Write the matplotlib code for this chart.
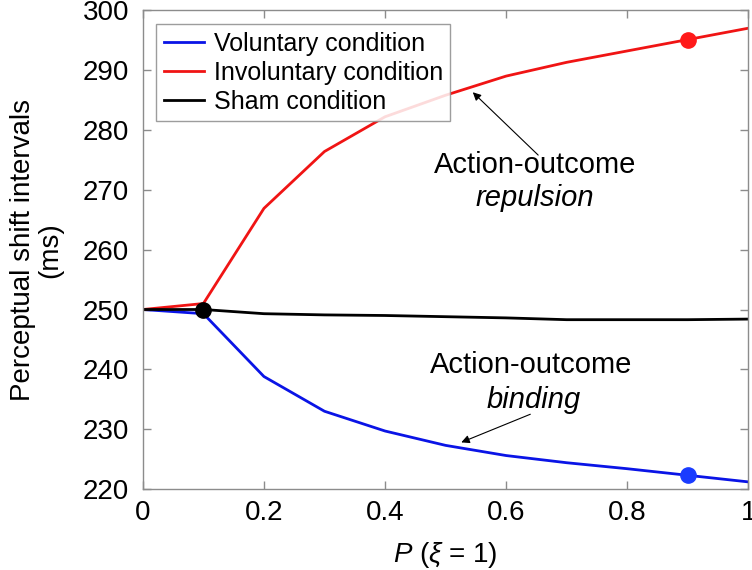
import numpy as np
import matplotlib
matplotlib.use("Agg")
import matplotlib.pyplot as plt

plt.rcParams['font.family'] = ['Liberation Sans', 'DejaVu Sans']
plt.rcParams['mathtext.fontset'] = 'custom'
plt.rcParams['mathtext.rm'] = 'Liberation Sans'
plt.rcParams['mathtext.it'] = 'Liberation Sans:italic'

# data
p = [0, 0.1, 0.2, 0.3, 0.4, 0.5, 0.6, 0.7, 0.8, 0.9, 1.0]
voluntary = [250, 249.3, 238.8, 233.0, 229.7, 227.3, 225.6, 224.4, 223.4, 222.3, 221.2]
involuntary = [250, 251.0, 266.9, 276.4, 282.2, 285.8, 289.0, 291.3, 293.2, 295.1, 297.0]
sham = [250, 250.0, 249.3, 249.1, 249.0, 248.8, 248.6, 248.3, 248.3, 248.3, 248.4]

# highlighted points
mark_x = [0.1, 0.9, 0.9]
mark_y = [250.0, 295.1, 222.3]
mark_c = ['black', '#ff1a1a', '#1a3cff']

fig = plt.figure(figsize=(7.52, 5.70), dpi=100)
ax = fig.add_axes([0.190, 0.142, 0.805, 0.840])

ax.plot(p, voluntary, color='#0a14e6', lw=2, label='Voluntary condition')
ax.plot(p, involuntary, color='#f01414', lw=2, label='Involuntary condition')
ax.plot(p, sham, color='black', lw=2, label='Sham condition')

for x, y, c in zip(mark_x, mark_y, mark_c):
    ax.plot(x, y, 'o', color=c, markersize=11, zorder=5)

ax.set_xlim(0, 1)
ax.set_ylim(220, 300)
ax.set_xticks(np.arange(0, 1.01, 0.2))
ax.set_xticklabels(['0', '0.2', '0.4', '0.6', '0.8', '1'])
ax.set_yticks(np.arange(220, 301, 10))

for s in ax.spines.values():
    s.set_color('#8c8c8c')
    s.set_linewidth(1)
ax.tick_params(direction='in', length=6, width=1, color='#8c8c8c',
               labelsize=20, top=True, right=True)
ax.tick_params(axis='y', pad=10)
ax.tick_params(axis='x', pad=8)

ax.set_xlabel(r'$P$ ($\xi$ = 1)', fontsize=20, labelpad=10)
ax.set_ylabel('Perceptual shift intervals\n(ms)', fontsize=20, labelpad=14,
              linespacing=1.05)

leg = ax.legend(loc='upper left', bbox_to_anchor=(0.022, 0.971), fontsize=18,
                fancybox=False, framealpha=0.85, edgecolor='#8c8c8c',
                handlelength=1.6, borderpad=0.3, labelspacing=0.2,
                handletextpad=0.4, borderaxespad=0)
leg.get_frame().set_linewidth(1)

# annotations
ax.text(0.648, 274.1, 'Action-outcome', fontsize=21, ha='center', va='center')
ax.text(0.648, 268.7, 'repulsion', fontsize=21, ha='center', va='center',
        style='italic')
ax.annotate('', xy=(0.545, 286.3), xytext=(0.653, 275.8),
            arrowprops=dict(arrowstyle='-|>', color='black', lw=0.8,
                            mutation_scale=12, shrinkA=0, shrinkB=0))

ax.text(0.641, 240.7, 'Action-outcome', fontsize=21, ha='center', va='center')
ax.text(0.645, 234.9, 'binding', fontsize=21, ha='center', va='center',
        style='italic')
ax.annotate('', xy=(0.526, 227.8), xytext=(0.640, 232.5),
            arrowprops=dict(arrowstyle='-|>', color='black', lw=0.8,
                            mutation_scale=12, shrinkA=0, shrinkB=0))

fig.savefig('out.png', dpi=100)
